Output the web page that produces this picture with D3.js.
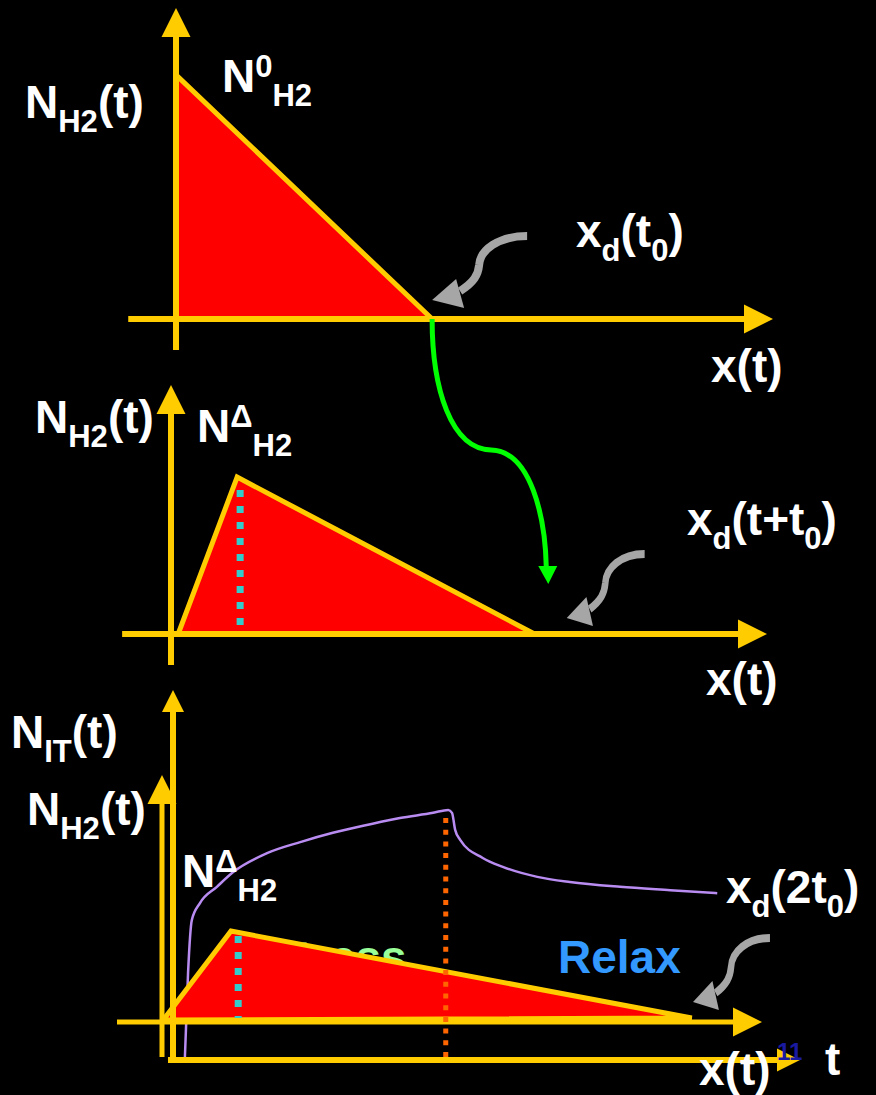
<!DOCTYPE html>
<html>
<head>
<meta charset="utf-8">
<script src="https://cdn.jsdelivr.net/npm/d3@7"></script>
<style>
  html, body { margin: 0; padding: 0; background: #000; }
  svg { display: block; }
  text { font-family: "Liberation Sans", Arial, sans-serif; font-weight: bold; }
</style>
</head>
<body>
<svg id="chart" width="876" height="1095"></svg>
<script>
// ----- data (panel units: 0..100 along each axis) -----

// panel 1: initial H2 profile N_H2(x) at t = 0
const p1Profile = [[0, 0], [0, 78.5], [42.9, 0]];
// panel 2: profile after time t
const p2Profile = [[1.2, 0], [11.1, 63], [61, 0]];
const p2Peak = {x: 11.6, y0: 3.6, y1: 57.8};
// panel 3: profile after 2 t0
const p3Profile = [[0.2, 0.8], [11.5, 36.8], [88.3, 1.6]];
const p3Peak = {x: 12.7, y0: 1.6, y1: 34.8};

// panel 3: N_IT(t) trace against time
const itTrace = [
  [1.9, 0.8], [2.4, 23.5], [3.0, 37.8], [4.3, 42.4], [7.0, 46.8], [9.6, 50.8],
  [15.0, 55.9], [20.3, 58.9], [25.5, 61.4], [30.9, 63.5], [36.2, 65.4],
  [41.5, 66.8], [43.9, 67.6], [44.5, 66.8], [45.0, 62.2], [45.8, 59.5],
  [49.4, 54.6], [52.6, 52.2], [58.1, 49.5], [63.3, 48.1], [71.3, 46.8],
  [79.3, 45.9], [86.8, 45.1]
];
const stressEnd = {x: 43.5, y0: 0, y1: 65.4};

// gray pointer tips (panel units)
const pointerTips = [
  {panel: 0, x: 42.9, y: 6.1, sx: 1.0},
  {panel: 1, x: 66.4, y: 6.4, sx: 0.82},
  {panel: 2, x: 88.5, y: 8.1, sx: 0.81}
];

// ----- colours -----
const yellow = "#FFCC00", red = "#FF0000", cyan = "#33CCCC", orange = "#FF6600";
const purple = "#B98CF2", green = "#00FF00", gray = "#A6A6A6";

const svg = d3.select("#chart");

// ----- scales -----
const panels = [
  {x: d3.scaleLinear().domain([0, 100]).range([176, 773]),
   y: d3.scaleLinear().domain([0, 100]).range([319, 8]),
   xmin: -8, ymin: -10},
  {x: d3.scaleLinear().domain([0, 100]).range([171, 767]),
   y: d3.scaleLinear().domain([0, 100]).range([634, 385]),
   xmin: -8.2, ymin: -12.4},
  {x: d3.scaleLinear().domain([0, 100]).range([162, 762]),
   y: d3.scaleLinear().domain([0, 100]).range([1022, 775]),
   xmin: -7.5, ymin: -14.2}
];
// time axes of panel 3
const tx = d3.scaleLinear().domain([0, 100]).range([173, 800]);
const ty = d3.scaleLinear().domain([0, 100]).range([1060, 690]);

const line = d3.line();

function drawAxes(g, P, head, sw, opt) {
  const o = opt || {};
  const x0 = P.x(0), y0 = P.y(0);
  const xEnd = P.x(100), yEnd = P.y(100);
  const hx = o.hx || head, hy = o.hy || head;
  // horizontal
  g.append("line").attr("x1", P.x(P.xmin)).attr("x2", xEnd - hx + 2)
    .attr("y1", y0).attr("y2", y0).attr("stroke", yellow).attr("stroke-width", sw);
  g.append("path").attr("fill", yellow)
    .attr("d", line([[xEnd, y0], [xEnd - hx, y0 - hx / 2], [xEnd - hx, y0 + hx / 2]]));
  // vertical
  g.append("line").attr("x1", x0).attr("x2", x0)
    .attr("y1", P.y(P.ymin)).attr("y2", yEnd + hy - 2)
    .attr("stroke", yellow).attr("stroke-width", sw);
  g.append("path").attr("fill", yellow)
    .attr("d", line([[x0, yEnd], [x0 - hy / 2, yEnd + hy], [x0 + hy / 2, yEnd + hy]]));
}

function drawProfile(g, P, pts) {
  g.append("path")
    .attr("d", line(pts.map(d => [P.x(d[0]), P.y(d[1])])) + "Z")
    .attr("fill", red).attr("stroke", yellow).attr("stroke-width", 5)
    .attr("stroke-linejoin", "miter");
}

function drawPeak(g, P, pk) {
  g.append("line").attr("x1", P.x(pk.x)).attr("x2", P.x(pk.x))
    .attr("y1", P.y(pk.y1)).attr("y2", P.y(pk.y0))
    .attr("stroke", cyan).attr("stroke-width", 7).attr("stroke-dasharray", "7 9");
}

function label(x, y, parts, size, color) {
  const fs = size || 46;
  const t = svg.append("text").attr("x", x).attr("y", y)
    .attr("fill", color || "#fff").attr("font-size", fs);
  let shift = 0;
  parts.forEach(p => {
    const target = p.sub ? 14 : p.sup ? -15 : 0;
    t.append("tspan").attr("dy", target - shift)
      .attr("font-size", (p.sub || p.sup) ? 31 : fs).text(p.t);
    shift = target;
  });
}

function pointer(tip) {
  const P = panels[tip.panel];
  const g = svg.append("g")
    .attr("transform", `translate(${P.x(tip.x)},${P.y(tip.y)}) scale(${tip.sx},1)`);
  g.append("path").attr("d", "M95,-64 C66,-64 48,-50 47,-35 C46,-25 42,-18 28,-9")
    .attr("fill", "none").attr("stroke", gray).attr("stroke-width", 8);
  g.append("path").attr("d", line([[0, 0], [32, 8], [24, -21]])).attr("fill", gray);
}

// ----- panel 1 -----
const g1 = svg.append("g");
drawProfile(g1, panels[0], p1Profile);
drawAxes(g1, panels[0], 29, 6);

// ----- panel 2 -----
const g2 = svg.append("g");
drawProfile(g2, panels[1], p2Profile);
drawPeak(g2, panels[1], p2Peak);
drawAxes(g2, panels[1], 29, 6);

// ----- panel 3 -----
const g3 = svg.append("g");
g3.append("path")
  .attr("d", d3.line().x(d => tx(d[0])).y(d => ty(d[1])).curve(d3.curveMonotoneX)(itTrace))
  .attr("fill", "none").attr("stroke", purple).attr("stroke-width", 2.5);
// "Stress" sits mostly hidden behind the profile
g3.append("text").attr("x", 266).attr("y", 973).attr("font-size", 46)
  .attr("fill", "#99FF99").text("Stress");
drawProfile(g3, panels[2], p3Profile);
drawPeak(g3, panels[2], p3Peak);
drawAxes(g3, panels[2], 29, 5);
// time axes (N_IT vs t)
svg.append("text").attr("x", 777).attr("y", 1060).attr("font-size", 24)
  .attr("font-weight", "normal").attr("fill", "#1A1AA0").text("11");
drawAxes(g3, {x: tx, y: ty, xmin: -0.8, ymin: -0.8}, 0, 6, {hx: 23, hy: 22});
g3.append("line").attr("x1", tx(stressEnd.x)).attr("x2", tx(stressEnd.x))
  .attr("y1", ty(stressEnd.y1)).attr("y2", ty(stressEnd.y0))
  .attr("stroke", orange).attr("stroke-width", 5).attr("stroke-dasharray", "5 6.7");

// green transfer arrow from panel 1 front to panel 2 front
const gs = [panels[0].x(p1Profile[2][0]), panels[0].y(0)];
const ge = [panels[1].x(63.3), panels[1].y(20.5)];
svg.append("path")
  .attr("d", `M${gs[0]},${gs[1]} C${gs[0]},${gs[1] + 70} ${gs[0] + 19},${gs[1] + 130} ${gs[0] + 59},${gs[1] + 131}` +
             ` C${gs[0] + 99},${gs[1] + 132} ${ge[0] - 3},${ge[1] - 65} ${ge[0] - 2},${ge[1] - 16}`)
  .attr("fill", "none").attr("stroke", green).attr("stroke-width", 5);
svg.append("path").attr("fill", green)
  .attr("d", line([[ge[0], ge[1] + 1], [ge[0] - 10, ge[1] - 17], [ge[0] + 9, ge[1] - 17]]));

pointerTips.forEach(pointer);

// ----- labels -----
label(25, 118, [{t: "N"}, {t: "H2", sub: true}, {t: "(t)"}]);
label(222, 92, [{t: "N"}, {t: "0", sup: true}, {t: "H2", sub: true}]);
label(576, 247, [{t: "x"}, {t: "d", sub: true}, {t: "(t"}, {t: "0", sub: true}, {t: ")"}]);
label(711, 382, [{t: "x(t)"}]);

label(35, 433, [{t: "N"}, {t: "H2", sub: true}, {t: "(t)"}]);
label(197, 442, [{t: "N"}, {t: "\u0394", sup: true}, {t: "H2", sub: true}]);
label(687, 535, [{t: "x"}, {t: "d", sub: true}, {t: "(t+t"}, {t: "0", sub: true}, {t: ")"}]);
label(706, 695, [{t: "x(t)"}]);

label(11, 748, [{t: "N"}, {t: "IT", sub: true}, {t: "(t)"}]);
label(27, 825, [{t: "N"}, {t: "H2", sub: true}, {t: "(t)"}]);
label(182, 887, [{t: "N"}, {t: "\u0394", sup: true}, {t: "H2", sub: true}]);
label(726, 903, [{t: "x"}, {t: "d", sub: true}, {t: "(2t"}, {t: "0", sub: true}, {t: ")"}]);
label(558, 973, [{t: "Relax"}], 46, "#3399FF");
label(699, 1085, [{t: "x(t)"}]);
label(825, 1075, [{t: "t"}]);
</script>
</body>
</html>
